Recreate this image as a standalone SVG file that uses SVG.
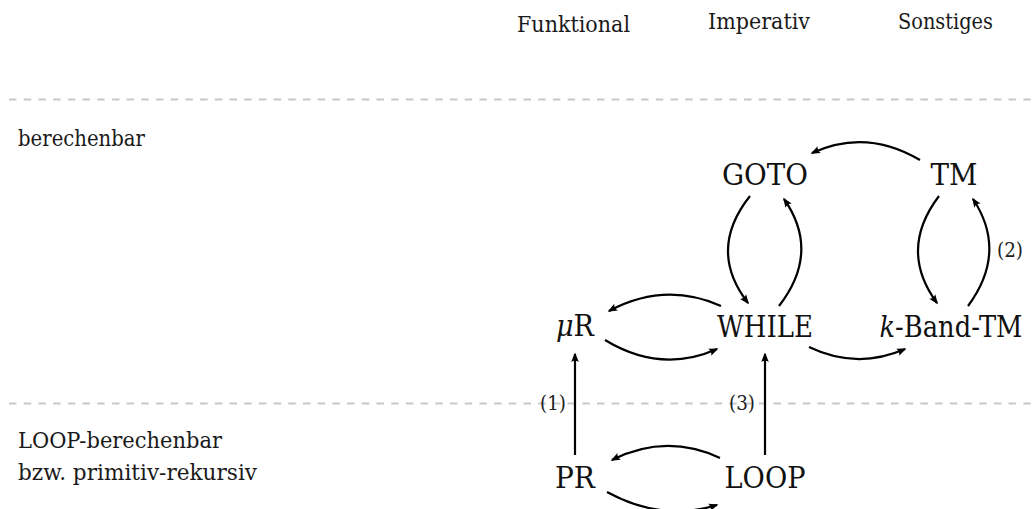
<svg xmlns="http://www.w3.org/2000/svg" width="1032" height="509" viewBox="0 0 1032 509">
  <style>
    text { font-family: "DejaVu Serif", serif; }
    .lbl { font-size: 22.5px; fill: #1a1a1a; }
    .node { font-size: 29px; fill: #111; text-anchor: middle; }
    .note { font-size: 20px; fill: #222; text-anchor: middle; }
    .sep { stroke: #c8c8c8; stroke-width: 2; stroke-dasharray: 7.5 7.2; fill: none; }
    .edge { stroke: #000; stroke-width: 2.2; fill: none; marker-end: url(#tip); }
  </style>
  <defs>
    <marker id="tip" markerUnits="userSpaceOnUse" markerWidth="14" markerHeight="12" viewBox="-9 -6 14 12" refX="0" refY="0" orient="auto">
      <path d="M 1.5 0 L -8 -3.8 Q -5.5 0 -8 3.8 Z" fill="#000"/>
    </marker>
  </defs>

  <rect width="1032" height="509" fill="#fff"/>

  <!-- column headings -->
  <g id="headings">
    <text class="lbl" x="517" y="32" textLength="113" lengthAdjust="spacingAndGlyphs">Funktional</text>
    <text class="lbl" x="708" y="29" textLength="102" lengthAdjust="spacingAndGlyphs">Imperativ</text>
    <text class="lbl" x="898" y="29" textLength="95" lengthAdjust="spacingAndGlyphs">Sonstiges</text>
  </g>

  <!-- class separators -->
  <g id="separators">
    <line class="sep" x1="9" y1="99.5" x2="1032" y2="99.5"/>
    <line class="sep" x1="9" y1="403.5" x2="1032" y2="403.5"/>
  </g>

  <!-- row labels -->
  <g id="rows">
    <text class="lbl" x="18" y="146" textLength="127" lengthAdjust="spacingAndGlyphs">berechenbar</text>
    <text class="lbl" x="18" y="448" textLength="204" lengthAdjust="spacingAndGlyphs">LOOP-berechenbar</text>
    <text class="lbl" x="18" y="480" textLength="239" lengthAdjust="spacingAndGlyphs">bzw. primitiv-rekursiv</text>
  </g>

  <!-- connectors -->
  <g id="connectors">
    <path class="edge" d="M 920 160 Q 866 128 812 153"/>
    <path class="edge" d="M 750 196 Q 707 250 748 303"/>
    <path class="edge" d="M 779 306 Q 821 252 784 199"/>
    <path class="edge" d="M 939 196 Q 898 250 937 303"/>
    <path class="edge" d="M 968 306 Q 1008 252 973 199"/>
    <path class="edge" d="M 721 306 Q 665 281 609 311"/>
    <path class="edge" d="M 605 340 Q 661 374 717 349"/>
    <path class="edge" d="M 809 347 Q 857 370 905 349"/>
    <path class="edge" d="M 720 458 Q 666 433 612 460"/>
    <path class="edge" d="M 607 492 Q 662 522 717 505"/>
    <path class="edge" d="M 575 455 L 575 354"/>
    <path class="edge" d="M 765 455 L 765 354"/>
  </g>

  <!-- edge annotations -->
  <g id="notes">
    <text class="note" x="553" y="410" textLength="26" lengthAdjust="spacingAndGlyphs">(1)</text>
    <text class="note" x="742" y="410" textLength="26" lengthAdjust="spacingAndGlyphs">(3)</text>
    <text class="note" x="1010" y="257" textLength="26" lengthAdjust="spacingAndGlyphs">(2)</text>
  </g>

  <!-- nodes -->
  <g id="node-goto"><text class="node" x="765" y="185" textLength="86" lengthAdjust="spacingAndGlyphs">GOTO</text></g>
  <g id="node-tm"><text class="node" x="954" y="185" textLength="47" lengthAdjust="spacingAndGlyphs">TM</text></g>
  <g id="node-muR"><text class="node" x="575" y="336" textLength="38" lengthAdjust="spacingAndGlyphs"><tspan font-style="italic">μ</tspan>R</text></g>
  <g id="node-while"><text class="node" x="765" y="337" textLength="96" lengthAdjust="spacingAndGlyphs">WHILE</text></g>
  <g id="node-kband"><text class="node" x="951" y="337" font-size="27" textLength="143" lengthAdjust="spacingAndGlyphs"><tspan font-style="italic">k</tspan>-Band-TM</text></g>
  <g id="node-pr"><text class="node" x="575" y="488" textLength="40" lengthAdjust="spacingAndGlyphs">PR</text></g>
  <g id="node-loop"><text class="node" x="765" y="488" textLength="81" lengthAdjust="spacingAndGlyphs">LOOP</text></g>
</svg>
